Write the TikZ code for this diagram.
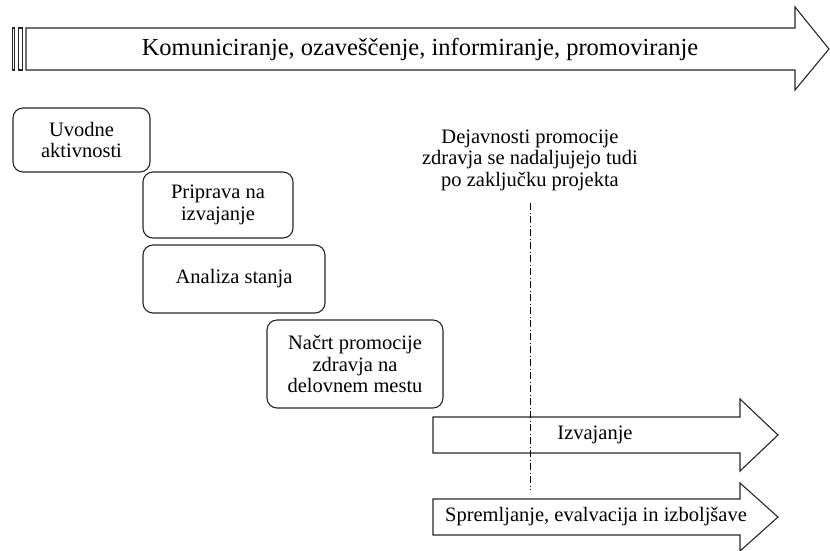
\documentclass[tikz,border=0pt]{standalone}
\usepackage{fontspec}
\setmainfont{Liberation Serif}
\begin{document}
\begin{tikzpicture}[x=1pt,y=-1pt,
  shapeline/.style={draw=black!85,line width=1.1pt,line join=miter},
  phase/.style={shapeline,rounded corners=10pt,align=center,inner sep=0pt,
    font=\fontsize{20.5}{21.5}\selectfont},
  lbl/.style={align=center,inner sep=0pt,font=\fontsize{20.5}{21.5}\selectfont},
  toplbl/.style={inner sep=0pt,font=\fontsize{24.5}{28}\selectfont},
  dashdotline/.style={draw=black,line width=0.9pt,dash pattern=on 7pt off 2.5pt on 1pt off 2.5pt}]
\useasboundingbox (0,0) rectangle (830,550);
% top striped arrow
\draw[shapeline] (12.5,28) rectangle (14.8,70);
\draw[shapeline] (18.3,28) rectangle (22.8,70);
\draw[shapeline] (26,28) -- (795,28) -- (795,7) -- (829,49) -- (795,90) -- (795,70) -- (26,70) -- cycle;
\node[toplbl] (komun) at (420,49) {Komuniciranje, ozaveščenje, informiranje, promoviranje};
% phase boxes
\node[phase,minimum width=137pt,minimum height=64pt] (uvod) at (81.5,140) {Uvodne\\aktivnosti};
\node[phase,minimum width=150pt,minimum height=66pt] (prip) at (218,205) {Priprava na\\izvajanje};
\node[phase,minimum width=182pt,minimum height=68pt] (anal) at (234,279) {Analiza stanja};
\node[phase,minimum width=176pt,minimum height=88pt] (nacrt) at (355,364) {Načrt promocije\\zdravja na\\delovnem mestu};
% lower arrows
\draw[shapeline] (433,417) -- (740,417) -- (740,399) -- (778,435) -- (740,471) -- (740,453) -- (433,453) -- cycle;
\node[lbl] (izv) at (595,435) {Izvajanje};
\draw[shapeline] (433,499) -- (740,499) -- (740,483) -- (778,517) -- (740,551) -- (740,535) -- (433,535) -- cycle;
\node[lbl] (sprem) at (596,517) {Spremljanje, evalvacija in izboljšave};
% note and dash-dot line
\node[lbl] (note) at (530,160) {Dejavnosti promocije\\zdravja se nadaljujejo tudi\\po zaključku projekta};
\coordinate (lineend) at (530,490);
\draw[dashdotline] (note.south |- 0,203) -- (lineend);
\end{tikzpicture}
\end{document}
